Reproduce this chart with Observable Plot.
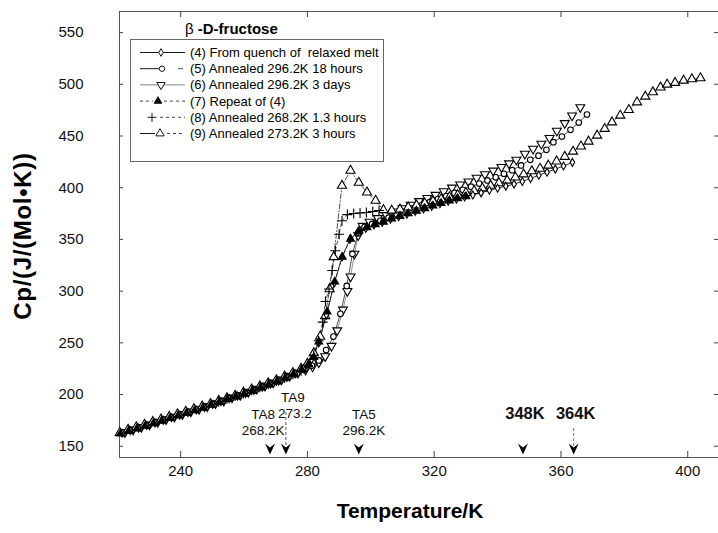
<!DOCTYPE html>
<html>
<head>
<meta charset="utf-8">
<script src="https://cdn.jsdelivr.net/npm/d3@7"></script>
<script src="https://cdn.jsdelivr.net/npm/@observablehq/plot@0.6"></script>
<style>
  html, body { margin: 0; padding: 0; background: #fff; }
  #chart { width: 718px; height: 533px; }
  #chart svg { display: block; }
</style>
</head>
<body>
<div id="chart"></div>
<script>
// Heat capacity scans of beta-D-fructose, [temperature K, Cp J/(mol K)]
const quench4 = [[221.5,162.5],[224.1,165],[226.7,167.5],[229.3,170],[231.9,172.5],[234.5,175],[237.1,177.5],[239.7,180],[242.3,182.5],[244.9,185],[247.5,187.5],[250.1,190.5],[252.7,193],[255.3,196],[257.9,198.5],[260.5,201],[263.1,204],[265.7,207],[268.3,210],[270.9,213],[273.5,216.5],[276.1,220],[278.7,225],[281.3,234],[283.6,250],[286.0,277],[288.5,308],[290.9,333],[293.4,350],[295.9,357],[298.4,360.5],[301.0,364],[303.6,366.5],[306.2,369.5],[308.8,372],[311.4,374.5],[314.0,377],[316.6,379.5],[319.2,382],[321.8,384.5],[324.4,387],[327.0,389],[329.6,391],[332.2,393],[334.8,395],[337.4,397.5],[340.0,399.5],[342.6,401.5],[345.2,403.5],[347.8,406],[350.4,409],[353.0,412],[355.6,415],[358.2,418],[360.8,421],[363.6,424.5]];
const annealed5 = [[222.0,163],[224.6,165.5],[227.2,168],[229.8,170.5],[232.4,173],[235.0,175.5],[237.6,178],[240.2,180.5],[242.8,183],[245.4,185.5],[248.0,188],[250.6,191],[253.2,193.5],[255.8,196.5],[258.4,199],[261.0,201.5],[263.6,204.5],[266.2,207.5],[268.8,210.5],[271.4,213.5],[274.0,217],[276.6,220],[279.0,224],[281.4,228],[283.6,233],[285.9,243],[288.2,256],[290.4,278],[292.4,305],[294.2,336],[296.0,356],[298.0,362],[300.4,365],[303.0,368],[305.6,371],[308.2,374],[310.8,377],[313.4,380],[316.0,383],[318.6,386],[321.2,389],[323.8,392],[326.4,395],[329.0,398],[331.6,401],[334.2,404],[336.8,407],[339.4,410],[342.0,413.5],[344.6,417],[347.4,421.5],[350.3,427],[352.9,431],[355.4,436.6],[357.6,444],[360.3,449.5],[363.0,456],[365.6,463],[368.2,470.8]];
const annealed6 = [[222.4,163.5],[225.0,166],[227.6,168.5],[230.2,171],[232.8,173.5],[235.4,176],[238.0,178.5],[240.6,181],[243.2,183.5],[245.8,186],[248.4,188.5],[251.0,191.5],[253.6,194],[256.2,197],[258.8,199.5],[261.4,202.5],[264.0,205.5],[266.6,208.5],[269.2,211.5],[271.8,214.5],[274.4,218],[277.0,221],[279.4,224],[281.6,227],[283.6,231],[285.6,237],[287.6,247],[289.4,262],[291.2,282],[292.6,300],[293.6,314],[294.8,336],[296.0,354],[297.4,363],[299.6,367],[302.2,370.5],[304.8,374],[307.4,377],[310.0,380],[312.6,383.5],[315.2,387],[317.8,390],[320.4,393],[323.0,396.5],[325.6,400],[328.2,403],[330.8,406],[333.4,409.5],[336.0,413],[338.6,416.5],[341.2,420],[343.6,423.5],[345.9,427],[348.6,432.8],[351.2,437.6],[353.8,442.4],[356.4,448],[358.7,455],[361.2,462.4],[363.5,469.8],[366.1,477.8]];
const repeat7 = [[221.0,162],[223.6,164.5],[226.2,167],[228.8,169.5],[231.4,172],[234.0,174.5],[236.6,177],[239.2,179.5],[241.8,182],[244.4,184.5],[247.0,187],[249.6,190],[252.2,192.5],[254.8,195.5],[257.4,198],[260.0,200.5],[262.6,203.5],[265.2,206.5],[267.8,209.5],[270.4,212.5],[273.0,216],[275.6,219.5],[278.2,224],[280.3,229],[282.0,236],[283.6,251],[286.2,280],[288.6,309],[291.0,333],[293.6,350.5],[296.2,358],[298.8,361.5],[301.4,364.5],[304.0,367],[306.6,370],[309.2,372.5],[311.8,375],[314.4,377.5],[317.0,380],[319.6,382.5],[322.2,385],[324.8,387.5],[327.4,389.5],[330.0,391.5]];
const annealed8 = [[252.0,193],[254.6,196],[257.2,198.5],[259.8,201],[262.4,204],[265.0,207],[267.6,210],[270.2,213],[272.8,216],[275.4,219.5],[278.0,223],[280.2,228],[282.0,238],[283.5,252],[284.8,270],[285.7,290],[286.8,302],[287.8,320],[288.8,339],[290.0,355],[290.9,368],[292.6,374],[294.6,375],[296.6,375.5],[298.6,376],[300.6,377],[302.6,378]];
const annealed9 = [[220.8,163],[223.4,166],[226.0,168.5],[228.6,171],[231.2,173.5],[233.8,176],[236.4,178.5],[239.0,181],[241.6,183.5],[244.2,186],[246.8,188.5],[249.4,191],[252.0,194],[254.6,196.5],[257.2,199],[259.8,202],[262.4,205],[265.0,208],[267.6,211],[270.2,214],[272.8,217.5],[275.4,221],[278.0,225],[280.0,230],[282.0,240],[284.0,256],[285.6,276],[287.0,302],[288.3,333],[290.9,402],[293.6,416.6],[296.2,405],[298.8,395.5],[301.5,387.5],[304.0,378.5],[306.6,378],[309.2,379],[311.8,381],[314.4,383],[317.0,385],[319.6,387],[322.2,389],[324.8,391],[327.4,393],[330.0,395],[332.6,397],[335.2,399.5],[337.8,402],[340.4,404.5],[343.0,407],[345.6,410],[348.2,413],[350.8,416],[353.4,418.5],[356.0,421.5],[358.6,425.5],[361.2,430],[363.8,435],[366.3,440],[368.7,444.7],[371.4,450.5],[373.8,457],[376.1,463.3],[378.7,469.8],[381.4,475.3],[384.0,482.7],[386.6,488.2],[389.0,492.4],[391.4,497],[393.5,499.8],[396.0,501.5],[398.7,503.7],[401.3,505],[404.0,506]];

const seriesLabels = [
  "(4) From quench of  relaxed melt",
  "(5) Annealed 296.2K 18 hours",
  "(6) Annealed 296.2K 3 days",
  "(7) Repeat of (4)",
  "(8) Annealed 268.2K 1.3 hours",
  "(9) Annealed 273.2K 3 hours"
];

const xTicks = [240, 280, 320, 360, 400];
const yTicks = [150, 200, 250, 300, 350, 400, 450, 500, 550];

const annealTemps = [268.2, 273.2, 296.2];
const annealNames = ["TA8", "TA9", "TA5"];
const annealValues = ["268.2K", "273.2", "296.2K"];
const markTemps = [348, 364];
const markLabels = ["348K", "364K"];

// custom symbols: downward triangle and the solid arrowhead used for the temperature markers
const sqrt3 = Math.sqrt(3);
const triangleDown = {
  draw(context, size) {
    const y = -Math.sqrt(size / (sqrt3 * 3));
    context.moveTo(0, -y * 2);
    context.lineTo(-sqrt3 * y, y);
    context.lineTo(sqrt3 * y, y);
    context.closePath();
  }
};
const arrowHead = {
  draw(context) {
    context.moveTo(0, 0);
    context.lineTo(-5, -11);
    context.lineTo(0, -7);
    context.lineTo(5, -11);
    context.closePath();
  }
};

const styles = [
  {data: annealed6, symbol: triangleDown, r: 3.3, fill: "white", stroke: "#000", line: "#777", dash: null},
  {data: annealed5, symbol: "circle", r: 2.8, fill: "white", stroke: "#000", line: "#222", dash: null},
  {data: annealed9, symbol: "triangle", r: 3.4, fill: "white", stroke: "#000", line: "#222", dash: "5,2,1,2"},
  {data: quench4, symbol: "diamond", r: 2.4, fill: "white", stroke: "#000", line: "#000", dash: null},
  {data: annealed8, symbol: "plus", r: 3.3, fill: "none", stroke: "#000", line: "#222", dash: "3,3"},
  {data: repeat7, symbol: "triangle", r: 2.9, fill: "#000", stroke: "#000", line: "#222", dash: "3,3"}
];

const font = "'Liberation Sans', Arial, Helvetica, sans-serif";

const marks = [];
for (const s of styles) {
  marks.push(Plot.line(s.data, {x: d => d[0], y: d => d[1], stroke: s.line, strokeWidth: 0.8, strokeDasharray: s.dash}));
}
for (const s of styles) {
  marks.push(Plot.dot(s.data, {x: d => d[0], y: d => d[1], symbol: s.symbol, r: s.r, fill: s.fill, stroke: s.stroke, strokeWidth: 1.1}));
}

const svg = Plot.plot({
  width: 718,
  height: 533,
  marginLeft: 119,
  marginRight: 0,
  marginTop: 11,
  marginBottom: 76,
  style: {fontFamily: font, fontSize: "15px", color: "#111", background: "#fff"},
  x: {domain: [220.7, 409.7]},
  y: {domain: [139.1, 570.4]},
  marks: [
    Plot.frame({stroke: "#555", strokeWidth: 1}),
    // inward ticks on all four sides
    Plot.tickY(yTicks, {y: d => d, insetRight: 595, stroke: "#444"}),
    Plot.tickY(yTicks, {y: d => d, insetLeft: 595, stroke: "#444"}),
    Plot.tickX(xTicks, {x: d => d, insetTop: 440, stroke: "#444"}),
    Plot.tickX(xTicks, {x: d => d, insetBottom: 440, stroke: "#444"}),
    Plot.axisX(xTicks, {tickSize: 0, tickPadding: 8, label: null, fontSize: 15}),
    Plot.axisY(yTicks, {tickSize: 0, tickPadding: 36, label: null, fontSize: 15}),
    ...marks,
    // annealing temperatures and the two marked temperatures
    Plot.ruleX([annealTemps[1]], {x: d => d, insetTop: 401, insetBottom: 9, stroke: "#333", strokeWidth: 0.8, strokeDasharray: "3,2"}),
    Plot.ruleX([markTemps[1]], {x: d => d, insetTop: 417, insetBottom: 10, stroke: "#555", strokeWidth: 0.8, strokeDasharray: "3,2"}),
    Plot.dot(annealTemps, {x: d => d, frameAnchor: "bottom", dy: -3, symbol: arrowHead, fill: "#000", stroke: "none"}),
    Plot.dot(markTemps, {x: d => d, frameAnchor: "bottom", dy: -3, symbol: arrowHead, fill: "#000", stroke: "none"}),
    Plot.text([0], {x: annealTemps[0], text: [annealNames[0]], frameAnchor: "bottom", dx: -7, dy: -39, fontSize: 13.5}),
    Plot.text([0], {x: annealTemps[0], text: [annealValues[0]], frameAnchor: "bottom", dx: -7, dy: -23, fontSize: 13.5}),
    Plot.text([0], {x: annealTemps[1], text: [annealNames[1]], frameAnchor: "bottom", dx: 7, dy: -56, fontSize: 13.5}),
    Plot.text([0], {x: annealTemps[1], text: [annealValues[1]], frameAnchor: "bottom", dx: 9, dy: -40, fontSize: 13.5}),
    Plot.text([0], {x: annealTemps[2], text: [annealNames[2]], frameAnchor: "bottom", dx: 5, dy: -39, fontSize: 13.5}),
    Plot.text([0], {x: annealTemps[2], text: [annealValues[2]], frameAnchor: "bottom", dx: 5, dy: -23, fontSize: 13.5}),
    Plot.text(markTemps, {x: d => d, text: (d, i) => markLabels[i], frameAnchor: "bottom", dx: 2, dy: -39, fontSize: 16.5, fontWeight: "bold"})
  ]
});

// axis titles, the sample name and the legend box
const root = d3.select(svg);
root.append("text")
  .attr("transform", "translate(22,236) rotate(-90)")
  .attr("text-anchor", "middle").attr("dominant-baseline", "central")
  .style("font-family", font).style("font-weight", "bold").style("font-size", "24px")
  .style("letter-spacing", "0.7px").attr("fill", "#000")
  .text("Cp/(J/(Mol\u2022K))");
root.append("text")
  .attr("x", 410).attr("y", 510)
  .attr("text-anchor", "middle").attr("dominant-baseline", "central")
  .style("font-family", font).style("font-weight", "bold").style("font-size", "21px").attr("fill", "#000")
  .text("Temperature/K");

const title = root.append("text").attr("x", 185).attr("y", 34).attr("text-anchor", "start")
  .style("font-family", font).style("font-size", "15px").attr("fill", "#000");
title.append("tspan").text("\u03b2 ");
title.append("tspan").style("font-weight", "bold").text("-D-fructose");

const legend = root.append("g").attr("text-anchor", "start");
legend.append("rect").attr("x", 130.5).attr("y", 39.5).attr("width", 253).attr("height", 122)
  .attr("fill", "white").attr("stroke", "#666").attr("stroke-width", 1);

const legendKeys = [
  {symbol: d3.symbolDiamond, size: 17, fill: "white", segs: [[140, 185, null, "#000"]], mx: 161},
  {symbol: d3.symbolCircle, size: 23, fill: "white", segs: [[140, 159, null, "#000"], [178, 183, null, "#444"]], mx: 162},
  {symbol: triangleDown, size: 30, fill: "white", segs: [[140, 185, null, "#777"]], mx: 161},
  {symbol: d3.symbolTriangle, size: 25, fill: "#000", segs: [[140, 153, "3,3", "#333"], [164, 185, "3,3", "#333"]], mx: 158},
  {symbol: d3.symbolPlus, size: 28, fill: "none", segs: [[160, 185, "3,3", "#333"]], mx: 152},
  {symbol: d3.symbolTriangle, size: 30, fill: "white", segs: [[140, 155, null, "#000"], [167, 185, "3,3", "#333"]], mx: 160}
];
legendKeys.forEach((k, i) => {
  const y = 52.5 + i * 16.2;
  for (const [x1, x2, dash, col] of k.segs) {
    legend.append("line").attr("x1", x1).attr("x2", x2).attr("y1", y).attr("y2", y)
      .attr("stroke", col).attr("stroke-width", 0.9).attr("stroke-dasharray", dash);
  }
  legend.append("path").attr("d", d3.symbol(k.symbol, k.size)())
    .attr("transform", `translate(${k.mx},${y})`)
    .attr("fill", k.fill).attr("stroke", "#000").attr("stroke-width", 0.9);
  legend.append("text").attr("x", 190).attr("y", y).attr("dominant-baseline", "central")
    .attr("text-anchor", "start")
    .style("font-family", font).style("font-size", "13px").attr("fill", "#000")
    .text(seriesLabels[i]);
});

document.getElementById("chart").appendChild(svg);
</script>
</body>
</html>
